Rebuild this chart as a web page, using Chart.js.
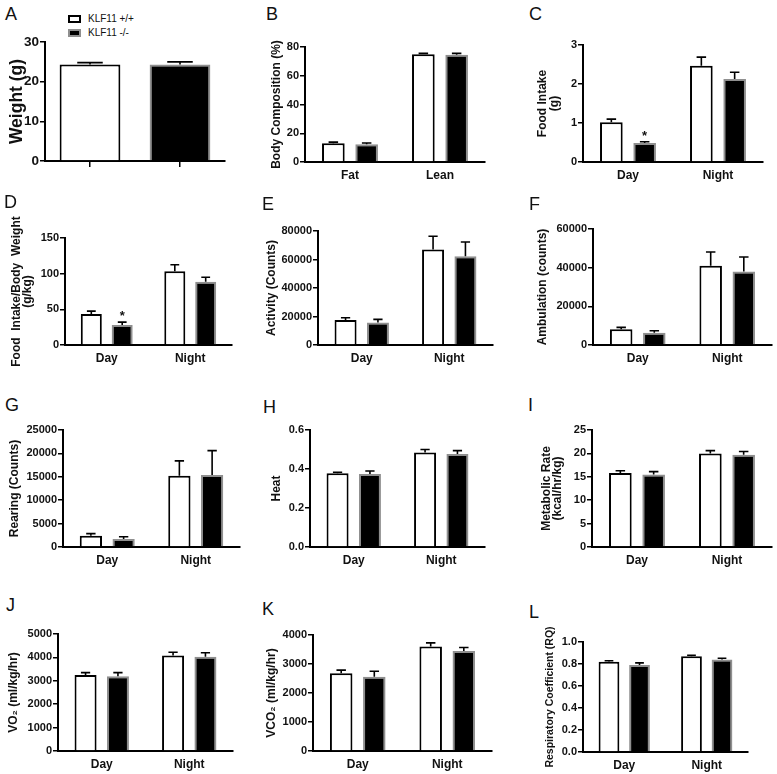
<!DOCTYPE html>
<html>
<head>
<meta charset="utf-8">
<script src="https://cdn.jsdelivr.net/npm/chart.js@4.4.1/dist/chart.umd.min.js"></script>
<style>
  html, body { margin: 0; padding: 0; background: #fff; overflow: hidden; }
  #fig { position: relative; width: 777px; height: 774px; overflow: hidden; font-family: "Liberation Sans", Arial, sans-serif; color: #111; }
  #fig canvas { position: absolute; }
  .letter { position: absolute; font-size: 18px; line-height: 18px; }
  .key { position: absolute; left: 68px; height: 14px; font-size: 10px; line-height: 14px; white-space: nowrap; }
  .key i { position: absolute; left: 0; top: 3px; width: 13px; height: 8px; box-sizing: border-box; border: 2px solid #000; }
  .key span { position: absolute; left: 20px; top: 0; }
</style>
</head>
<body>
<div id="fig"></div>
<script>
// categories
const groups = ['Day', 'Night'];
const composition = ['Fat', 'Lean'];
const genotypes = ['KLF11 +/+', 'KLF11 -/-'];

// A  body weight (g): mean and SEM
const weightWT = [24.3, null];
const weightKO = [null, 24.3];
const weightWTsem = [0.5, null];
const weightKOsem = [null, 0.7];

// B  body composition (%)
const compWT = [13.0, 75.0];
const compKO = [12.3, 74.6];
const compWTsem = [0.8, 0.6];
const compKOsem = [0.9, 1.0];

// C  food intake (g)
const foodWT = [1.02, 2.47];
const foodKO = [0.49, 2.13];
const foodWTsem = [0.08, 0.22];
const foodKOsem = [0.03, 0.17];
const foodKOmarks = ['*', ''];

// D  food intake / body weight (g/kg)
const foodBwWT = [43.3, 103.4];
const foodBwKO = [28.0, 88.5];
const foodBwWTsem = [4.2, 9.0];
const foodBwKOsem = [4.0, 6.5];
const foodBwKOmarks = ['*', ''];

// E  activity (counts)
const activityWT = [17500, 67000];
const activityKO = [15800, 62300];
const activityWTsem = [1600, 9300];
const activityKOsem = [2200, 10000];

// F  ambulation (counts)
const ambulationWT = [8100, 41000];
const ambulationKO = [6400, 38000];
const ambulationWTsem = [1000, 7100];
const ambulationKOsem = [1000, 7500];

// G  rearing (counts)
const rearingWT = [2400, 15200];
const rearingKO = [1700, 15400];
const rearingWTsem = [450, 3200];
const rearingKOsem = [500, 5200];

// H  heat
const heatWT = [0.378, 0.484];
const heatKO = [0.375, 0.477];
const heatWTsem = [0.005, 0.016];
const heatKOsem = [0.015, 0.017];

// I  metabolic rate (kcal/hr/kg)
const metabWT = [15.8, 20.0];
const metabKO = [15.5, 19.7];
const metabWTsem = [0.5, 0.6];
const metabKOsem = [0.6, 0.7];

// J  VO2 (ml/kg/hr)
const vo2WT = [3250, 4080];
const vo2KO = [3190, 4030];
const vo2WTsem = [100, 140];
const vo2KOsem = [160, 170];

// K  VCO2 (ml/kg/hr)
const vco2WT = [2680, 3600];
const vco2KO = [2560, 3450];
const vco2WTsem = [110, 130];
const vco2KOsem = [190, 120];

// L  respiratory coefficient
const rqWT = [0.82, 0.87];
const rqKO = [0.79, 0.84];
const rqWTsem = [0.01, 0.01];
const rqKOsem = [0.02, 0.012];

const FONT = '"Liberation Sans", Arial, sans-serif';
Chart.defaults.font.family = FONT;
Chart.defaults.color = '#111';

// upward SEM whiskers + significance marks
const errorBars = {
  id: 'errorBars',
  afterDatasetsDraw(chart) {
    const ctx = chart.ctx;
    const y = chart.scales.y;
    chart.data.datasets.forEach((ds, i) => {
      const meta = chart.getDatasetMeta(i);
      meta.data.forEach((bar, j) => {
        const v = ds.data[j], e = ds.sem && ds.sem[j];
        if (v == null || e == null) return;
        const top = y.getPixelForValue(v + e);
        const cap = bar.width * 0.21;
        ctx.save();
        ctx.strokeStyle = '#000';
        ctx.lineWidth = 1.6;
        ctx.beginPath();
        ctx.moveTo(bar.x, bar.y);
        ctx.lineTo(bar.x, top);
        ctx.moveTo(bar.x - cap, top);
        ctx.lineTo(bar.x + cap, top);
        ctx.stroke();
        const mark = ds.marks && ds.marks[j];
        if (mark) {
          ctx.fillStyle = '#111';
          ctx.font = 'bold 13px ' + FONT;
          ctx.textAlign = 'center';
          ctx.textBaseline = 'alphabetic';
          ctx.fillText(mark, bar.x, top - 2);
        }
        ctx.restore();
      });
    });
  }
};

// plot: [axis x, axis end x, y of max tick, y of zero]
const panels = [
  { letter: 'A', at: [5, 7], left: 0, plot: [45, 225, 42, 161], labels: ['', ''], single: true,
    wt: weightWT, ko: weightKO, wtSem: weightWTsem, koSem: weightKOsem,
    max: 30, step: 10, tickSize: 13.5, title: 'Weight (g)', titleSize: 17.5, titlePad: 6.5 },
  { letter: 'B', at: [266, 7], left: 258, plot: [305, 485, 47, 162], labels: composition,
    wt: compWT, ko: compKO, wtSem: compWTsem, koSem: compKOsem,
    max: 80, step: 20, title: 'Body Composition (%)', titlePad: 11.8 },
  { letter: 'C', at: [529, 7], left: 518, plot: [583, 763, 45, 162], labels: groups,
    wt: foodWT, ko: foodKO, wtSem: foodWTsem, koSem: foodKOsem, koMarks: foodKOmarks,
    max: 3, step: 1, title: ['Food Intake', '(g)'], titleLH: 1.0, titlePad: 19 },
  { letter: 'D', at: [4, 195], left: 0, plot: [65, 232, 238, 345], labels: groups,
    wt: foodBwWT, ko: foodBwKO, wtSem: foodBwWTsem, koSem: foodBwKOsem, koMarks: foodBwKOmarks,
    max: 150, step: 50, title: ['Food  Intake/Body  Weight', '(g/kg)'], titleLH: 0.92, titlePad: 11.5 },
  { letter: 'E', at: [262, 197], left: 258, plot: [318, 493, 231, 345], labels: groups,
    wt: activityWT, ko: activityKO, wtSem: activityWTsem, koSem: activityKOsem,
    max: 80000, step: 20000, title: 'Activity (Counts)', titlePad: 6.8 },
  { letter: 'F', at: [529, 197], left: 518, plot: [593, 772, 229, 345], labels: groups,
    wt: ambulationWT, ko: ambulationKO, wtSem: ambulationWTsem, koSem: ambulationKOsem,
    max: 60000, step: 20000, title: 'Ambulation (counts)', titlePad: 17.8 },
  { letter: 'G', at: [5, 398], left: 0, plot: [63, 240, 430, 547], labels: groups,
    wt: rearingWT, ko: rearingKO, wtSem: rearingWTsem, koSem: rearingKOsem,
    max: 25000, step: 5000, title: 'Rearing (Counts)', titlePad: 7.8 },
  { letter: 'H', at: [263, 400], left: 258, plot: [310, 485, 430, 547], labels: groups,
    wt: heatWT, ko: heatKO, wtSem: heatWTsem, koSem: heatKOsem,
    max: 0.6, step: 0.2, decimals: 1, title: 'Heat', titlePad: 11.8 },
  { letter: 'I', at: [528, 398], left: 518, plot: [592, 772, 430, 547], labels: groups,
    wt: metabWT, ko: metabKO, wtSem: metabWTsem, koSem: metabKOsem,
    max: 25, step: 5, title: ['Metabolic Rate', '(kcal/hr/kg)'], titleLH: 0.92, titlePad: 23.5 },
  { letter: 'J', at: [6, 598], left: 0, plot: [58, 233, 634, 751], labels: groups,
    wt: vo2WT, ko: vo2KO, wtSem: vo2WTsem, koSem: vo2KOsem,
    max: 5000, step: 1000, title: 'VO\u2082 (ml/kg/hr)', titlePad: 6.8 },
  { letter: 'K', at: [262, 602], left: 258, plot: [313, 492, 635, 751], labels: groups,
    wt: vco2WT, ko: vco2KO, wtSem: vco2WTsem, koSem: vco2KOsem,
    max: 4000, step: 1000, title: 'VCO\u2082 (ml/kg/hr)', titlePad: 6.8 },
  { letter: 'L', at: [529, 605], left: 518, plot: [583, 748, 642, 752], labels: groups,
    wt: rqWT, ko: rqKO, wtSem: rqWTsem, koSem: rqKOsem,
    max: 1.0, step: 0.2, decimals: 1, title: 'Respiratory Coefficient (RQ)', titleSize: 10.5, titlePad: 25.7 }
];

const fig = document.getElementById('fig');

// legend of panel A
genotypes.forEach((g, i) => {
  const row = document.createElement('div');
  row.className = 'key';
  row.style.top = (12 + i * 14) + 'px';
  row.innerHTML = '<i></i><span></span>';
  const box = row.querySelector('i');
  box.style.background = i === 0 ? '#fff' : '#000';
  box.style.borderColor = i === 0 ? '#000' : '#8f8f8f';
  row.querySelector('span').textContent = g;
  fig.appendChild(row);
});

panels.forEach(p => {
  const [x0, x1, yTop, yBot] = p.plot;
  // canvases are transparent, so generous margins may overlap safely
  const padTop = 40, padRight = 4, hx = 40;
  const wy = x0 - p.left;

  const lab = document.createElement('div');
  lab.className = 'letter';
  lab.textContent = p.letter;
  lab.style.left = p.at[0] + 'px';
  lab.style.top = (p.at[1] - 2.4) + 'px';
  fig.appendChild(lab);

  const canvas = document.createElement('canvas');
  canvas.width = x1 - p.left + padRight;
  canvas.height = yBot - yTop + padTop + hx;
  canvas.style.left = p.left + 'px';
  canvas.style.top = (yTop - padTop) + 'px';
  fig.appendChild(canvas);

  new Chart(canvas, {
    type: 'bar',
    data: {
      labels: p.labels,
      datasets: [
        { label: genotypes[0], data: p.wt, sem: p.wtSem,
          backgroundColor: '#fff', borderColor: '#000', borderWidth: 2 },
        { label: genotypes[1], data: p.ko, sem: p.koSem, marks: p.koMarks,
          backgroundColor: '#000', borderColor: '#8f8f8f', borderWidth: 2 }
      ]
    },
    options: {
      responsive: false,
      animation: false,
      layout: { padding: { top: padTop, right: padRight, left: 0, bottom: 0 } },
      plugins: { legend: { display: false }, tooltip: { enabled: false } },
      datasets: {
        bar: {
          categoryPercentage: p.single ? 0.75 : 0.74,
          barPercentage: p.single ? 0.9 : 0.68,
          skipNull: true
        }
      },
      scales: {
        x: {
          offset: true,
          grid: { display: !!p.single, drawOnChartArea: false, offset: false,
                  drawTicks: !!p.single, tickLength: 6, color: '#000', lineWidth: 1.5 },
          border: { color: '#000', width: 2 },
          ticks: { color: '#111', padding: 6, maxRotation: 0, font: { size: 12, weight: 'bold' } },
          afterFit: s => { s.height = hx; }
        },
        y: {
          min: 0,
          max: p.max,
          grid: { drawOnChartArea: false, drawTicks: true, tickLength: 5, color: '#000', lineWidth: 1.5 },
          border: { color: '#000', width: 2 },
          ticks: {
            stepSize: p.step, color: '#111', padding: 1,
            font: { size: p.tickSize || 11, weight: 'bold' },
            callback: v => p.decimals ? Number(v).toFixed(p.decimals) : String(v)
          },
          title: {
            display: true, text: p.title, color: '#111',
            padding: { top: p.titlePad, bottom: 0 },
            font: { size: p.titleSize || 12, weight: 'bold', lineHeight: p.titleLH || 1.2 }
          },
          afterFit: s => { s.width = wy; }
        }
      }
    },
    plugins: [errorBars]
  });
});
</script>
</body>
</html>
